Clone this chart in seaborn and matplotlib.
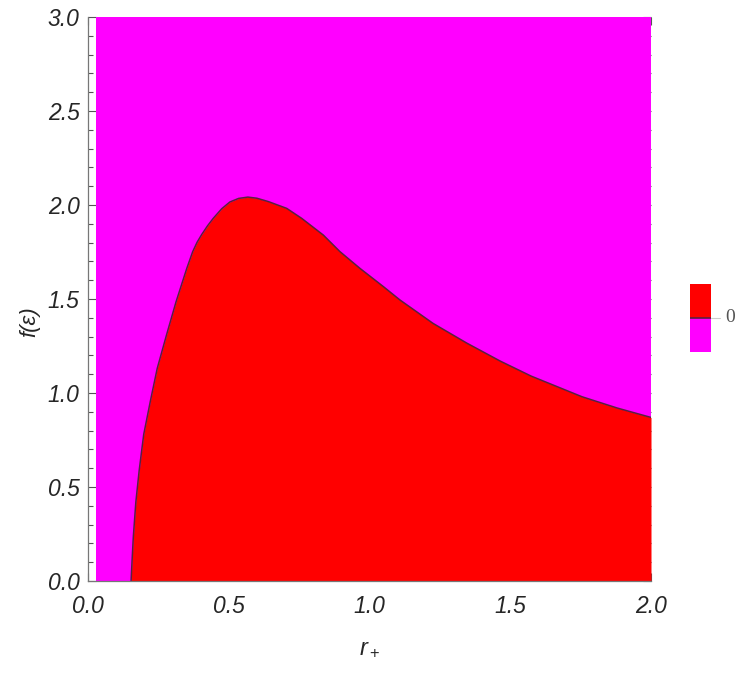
import numpy as np
import pandas as pd
import matplotlib
matplotlib.use("Agg")
import matplotlib.pyplot as plt
from matplotlib.patches import Rectangle
import seaborn as sns

# boundary curve (r_+, f(eps))
r_plus = [0.153, 0.157, 0.161, 0.170, 0.182, 0.198, 0.222, 0.246, 0.279, 0.313,
          0.351, 0.372, 0.388, 0.404, 0.425, 0.445, 0.475, 0.504, 0.535, 0.568,
          0.600, 0.641, 0.706, 0.759, 0.836, 0.895, 0.966, 1.050, 1.108, 1.226,
          1.346, 1.464, 1.574, 1.755, 1.880, 2.0]
f_eps = [0.0, 0.12, 0.234, 0.42, 0.59, 0.78, 0.96, 1.131, 1.309, 1.486,
         1.663, 1.752, 1.803, 1.843, 1.890, 1.929, 1.980, 2.016, 2.035, 2.042,
         2.036, 2.018, 1.982, 1.929, 1.84, 1.752, 1.663, 1.565, 1.495, 1.37,
         1.265, 1.17, 1.09, 0.98, 0.92, 0.87]
r_domain = [0.03, 2.0]
f_domain = [0.0, 3.0]
legend_labels = ["0"]

RED = "#FF0000"
MAGENTA = "#FF00FF"
EDGE = "#5a2040"

sns.set_style("ticks")
plt.rcParams['font.family'] = ['Liberation Sans', 'DejaVu Sans']
plt.rcParams['mathtext.fontset'] = 'custom'
plt.rcParams['mathtext.it'] = 'Liberation Sans:italic'
plt.rcParams['mathtext.rm'] = 'Liberation Sans'

fig = plt.figure(figsize=(7.5, 6.73), dpi=100)
ax = fig.add_axes([88/750, 1-581/673, (651-88)/750, (581-17)/673])

df = pd.DataFrame({"r": r_plus, "f": f_eps})

ax.fill_between(r_domain, f_domain[0], f_domain[1], color=MAGENTA, lw=0, zorder=1)
ax.fill_between(df["r"], 0, df["f"], color=RED, lw=0, zorder=2)
sns.lineplot(data=df, x="r", y="f", sort=False, color=EDGE, lw=1.1, ax=ax, zorder=3)

ax.set_xlim(0, 2.0)
ax.set_ylim(0, 3.0)
ax.set_xticks(np.arange(0, 2.01, 0.5))
ax.set_yticks(np.arange(0, 3.01, 0.5))
ax.set_xticks(np.arange(0, 2.01, 0.1), minor=True)
ax.set_yticks(np.arange(0, 3.01, 0.1), minor=True)
ax.set_xticklabels([f"{v:.1f}" for v in np.arange(0, 2.01, 0.5)])
ax.set_yticklabels([f"{v:.1f}" for v in np.arange(0, 3.01, 0.5)])
ax.tick_params(which="both", direction="in", top=True, right=True, color="#555555", width=0.8)
ax.tick_params(which="major", length=6)
ax.tick_params(which="minor", length=3.5)
ax.tick_params(axis="x", which="major", pad=10, labelsize=16.5)
ax.tick_params(axis="y", which="major", pad=6, labelsize=16.5)
for lab in ax.get_xticklabels() + ax.get_yticklabels():
    lab.set_fontstyle("italic")

for s in ["top", "right"]:
    ax.spines[s].set_visible(False)
for s in ["left", "bottom"]:
    ax.spines[s].set_color("#777777")
    ax.spines[s].set_linewidth(0.9)
    ax.spines[s].set_zorder(5)

ax.set_xlabel(r"$r_+$", fontsize=17, labelpad=14)
ax.set_ylabel("f(ε)", fontsize=16, style="italic", labelpad=10)
ax.yaxis.set_label_coords(-0.085, 0.46)

# legend swatch
lax = fig.add_axes([690/750, 1-352/673, 21/750, 68/673])
lax.set_xlim(0, 1)
lax.set_ylim(-1, 1)
lax.add_patch(Rectangle((0, 0), 1, 1, color=RED, lw=0))
lax.add_patch(Rectangle((0, -1), 1, 1, color=MAGENTA, lw=0))
lax.axhline(0, color=EDGE, lw=1.2)
lax.axis("off")
fig.add_artist(plt.Line2D([711/750, 720/750], [1-318/673, 1-318/673], color="#cccccc", lw=0.8))
fig.text(725/750, 1-318/673, legend_labels[0], fontsize=14, color="#555555",
         family=["Liberation Serif", "DejaVu Serif"], va="center", ha="left")

fig.savefig("out.png", dpi=100)
